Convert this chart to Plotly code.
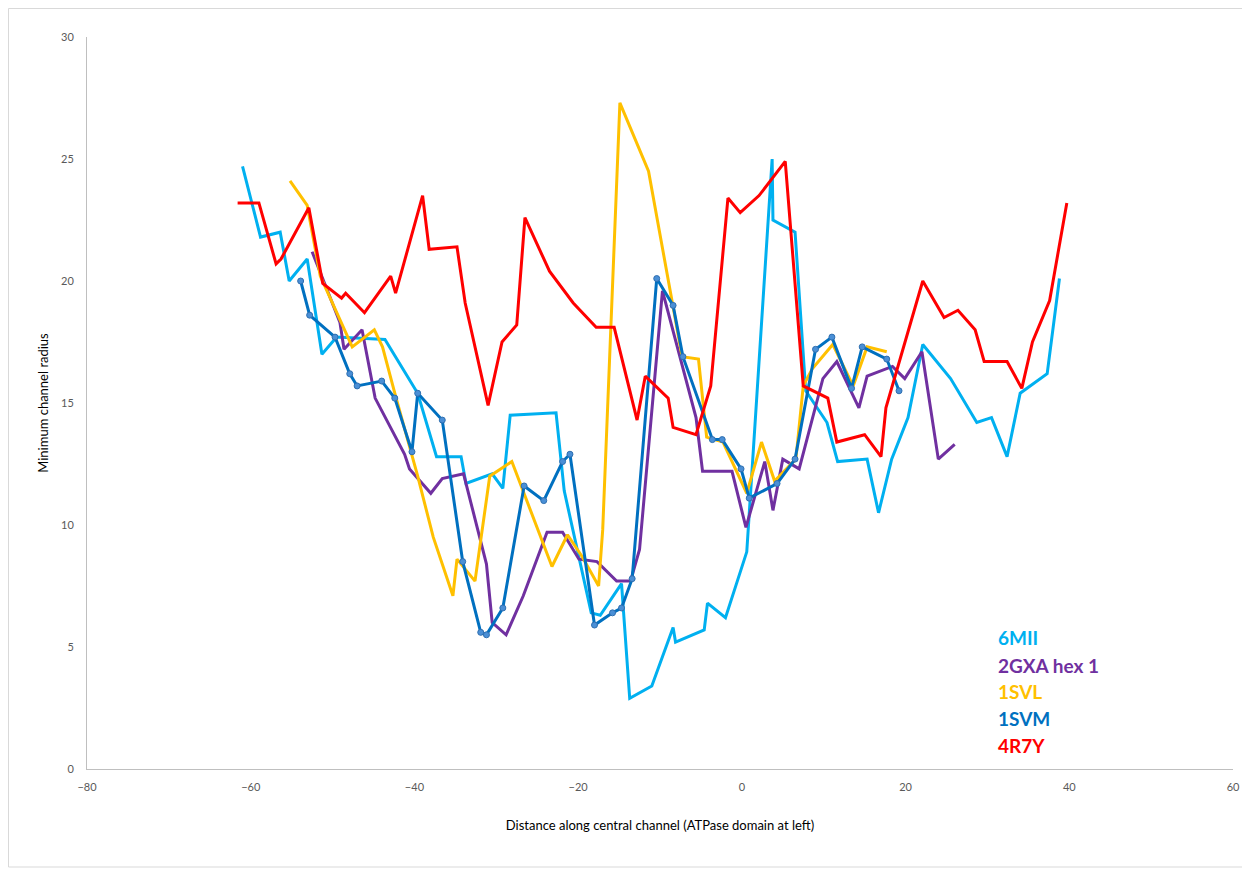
import plotly.graph_objects as go

# ---- data ----
mii_x = [-61.0,-58.8,-56.4,-55.3,-53.1,-51.3,-49.5,-43.6,-39.6,-37.3,-34.3,-33.7,-30.5,-29.2,-28.3,-22.7,-21.7,-18.4,-17.3,-14.7,-13.7,-11.0,-8.4,-8.1,-4.6,-4.2,-2.0,0.6,3.7,3.8,6.5,7.8,10.4,11.7,15.3,16.7,18.3,20.3,22.1,25.5,28.7,30.5,32.4,34.0,37.3,38.8]
mii_y = [24.7,21.8,22.0,20.0,20.9,17.0,17.7,17.6,15.4,12.8,12.8,11.7,12.1,11.5,14.5,14.6,11.4,6.4,6.3,7.6,2.9,3.4,5.8,5.2,5.7,6.8,6.2,8.9,25.0,22.5,22.0,15.5,14.2,12.6,12.7,10.5,12.7,14.4,17.4,16.0,14.2,14.4,12.8,15.4,16.2,20.1]

gxa_x = [-52.5,-49.1,-48.6,-46.4,-44.8,-41.2,-40.6,-38.0,-36.6,-34.0,-31.2,-30.5,-28.8,-26.7,-23.8,-21.9,-19.9,-17.7,-15.3,-13.6,-12.5,-9.7,-5.6,-4.8,-1.2,0.5,2.8,3.8,5.0,7.0,9.9,11.6,14.3,15.3,18.4,19.9,22.0,24.0,26.0]
gxa_y = [21.2,18.3,17.2,18.0,15.2,12.9,12.3,11.3,11.9,12.1,8.4,6.0,5.5,7.1,9.7,9.7,8.6,8.5,7.7,7.7,9.0,19.6,14.4,12.2,12.2,9.9,12.6,10.6,12.7,12.3,16.0,16.7,14.8,16.1,16.5,16.0,17.1,12.7,13.3]

svl_x = [-55.2,-53.1,-51.5,-47.6,-44.9,-43.9,-42.4,-39.6,-37.7,-35.3,-34.8,-32.6,-30.8,-28.1,-23.2,-21.3,-19.5,-17.5,-17.0,-14.9,-11.4,-7.3,-5.3,-4.3,-2.3,0.6,2.4,4.0,6.6,7.5,8.6,11.1,13.6,15.3,17.7]
svl_y = [24.1,23.1,20.2,17.3,18.0,17.3,15.4,12.0,9.5,7.1,8.6,7.7,12.0,12.6,8.3,9.6,8.7,7.5,9.8,27.3,24.5,16.9,16.8,13.6,13.4,11.3,13.4,11.8,12.7,15.7,16.4,17.4,15.7,17.3,17.1]

svm_x = [-53.9,-52.8,-49.7,-47.9,-47.0,-44.0,-42.4,-40.3,-39.6,-36.6,-34.1,-31.9,-31.2,-29.2,-26.6,-24.2,-21.9,-21.0,-18.0,-15.8,-14.7,-13.4,-10.4,-8.4,-7.2,-3.6,-2.4,-0.1,0.9,4.3,6.5,9.0,11.0,13.4,14.7,17.7,19.2]
svm_y = [20.0,18.6,17.7,16.2,15.7,15.9,15.2,13.0,15.4,14.3,8.5,5.6,5.5,6.6,11.6,11.0,12.6,12.9,5.9,6.4,6.6,7.8,20.1,19.0,16.9,13.5,13.5,12.3,11.1,11.7,12.7,17.2,17.7,15.6,17.3,16.8,15.5]

r7y_x = [-61.6,-59.0,-56.9,-56.3,-52.9,-51.2,-48.9,-48.4,-46.1,-42.9,-42.3,-39.0,-38.2,-34.8,-33.8,-31.0,-29.3,-27.5,-26.5,-23.5,-20.6,-17.8,-15.6,-12.8,-11.8,-9.0,-8.4,-5.6,-3.8,-1.7,-0.2,2.1,5.3,7.5,10.5,11.6,15.0,17.0,17.6,22.1,24.7,26.4,28.5,29.6,32.4,34.2,35.5,37.6,39.7]
r7y_y = [23.2,23.2,20.7,20.9,23.0,19.9,19.3,19.5,18.7,20.2,19.5,23.5,21.3,21.4,19.1,14.9,17.5,18.2,22.6,20.4,19.1,18.1,18.1,14.3,16.1,15.2,14.0,13.7,15.7,23.4,22.8,23.5,24.9,15.7,15.2,13.4,13.7,12.8,14.8,20.0,18.5,18.8,18.0,16.7,16.7,15.6,17.5,19.2,23.2]

series_names = ["6MII", "2GXA hex 1", "1SVL", "1SVM", "4R7Y"]
colors = ["#00B0F0", "#7030A0", "#FFC000", "#0070C0", "#FF0000"]

x_ticks = [-80, -60, -40, -20, 0, 20, 40, 60]
y_ticks = [0, 5, 10, 15, 20, 25, 30]

fig = go.Figure()
data = [(mii_x, mii_y), (gxa_x, gxa_y), (svl_x, svl_y), (svm_x, svm_y), (r7y_x, r7y_y)]
for (xs, ys), name, c in zip(data, series_names, colors):
    if name == "1SVM":
        fig.add_trace(go.Scatter(x=xs, y=ys, mode="lines+markers", name=name,
                                 line=dict(color=c, width=3),
                                 marker=dict(size=6, color="#4A8FD6",
                                             line=dict(color="#2F6FB0", width=1))))
    else:
        fig.add_trace(go.Scatter(x=xs, y=ys, mode="lines", name=name,
                                 line=dict(color=c, width=3)))

# plot area in page pixels: x 87..1233, y 37..769
PX0, PX1, PY0, PY1 = 87, 1233, 37, 769
def px(p):
    return (p - PX0) / (PX1 - PX0)
def py(p):
    return (PY1 - p) / (PY1 - PY0)

# legend as coloured text
leg_y = [637, 665, 691, 718, 745]
for name, c, yy in zip(series_names, colors, leg_y):
    fig.add_annotation(x=px(996), y=py(yy), xref="paper", yref="paper",
                       text="<b>%s</b>" % name, showarrow=False, xanchor="left", yanchor="middle",
                       font=dict(family="Lato, Open Sans, sans-serif", size=19, color=c))

# chart border
fig.add_shape(type="rect", xref="paper", yref="paper",
              x0=px(8.5), x1=px(1245), y0=py(867), y1=py(8.5),
              line=dict(color="#D9D9D9", width=1), fillcolor="rgba(0,0,0,0)", layer="below")

# page body has an 8px margin, so compensate
fig.update_layout(
    width=1250, height=871,
    margin=dict(l=PX0 - 8, r=1250 - (PX1 - 8), t=PY0 - 8, b=871 - (PY1 - 8)),
    paper_bgcolor="white", plot_bgcolor="white",
    showlegend=False,
    font=dict(family="Lato, Open Sans, sans-serif"),
    xaxis=dict(range=[-80, 60], tickvals=x_ticks, showgrid=False, zeroline=False,
               showline=True, linecolor="#BFBFBF", linewidth=1, ticks="",
               ticklabelstandoff=8,
               tickfont=dict(size=11, color="#595959"),
               title=dict(text="Distance along central channel (ATPase domain at left)",
                          font=dict(size=13, color="#000000"), standoff=28)),
    yaxis=dict(range=[0, 30], tickvals=y_ticks, showgrid=False, zeroline=False,
               showline=True, linecolor="#BFBFBF", linewidth=1, ticks="",
               ticklabelstandoff=10,
               tickfont=dict(size=11, color="#595959"),
               title=dict(text="Minimum channel radius",
                          font=dict(size=13, color="#000000"), standoff=9)),
)

fig.write_html("out.html")
